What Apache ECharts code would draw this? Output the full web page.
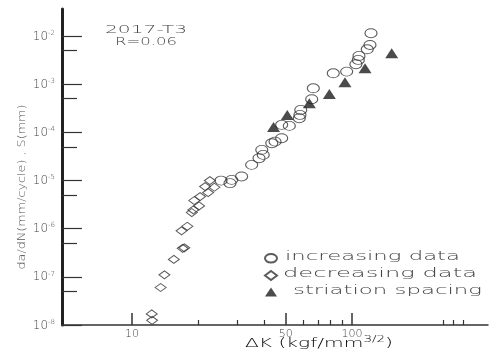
<!DOCTYPE html>
<html>
<head>
<meta charset="utf-8">
<script src="https://cdn.jsdelivr.net/npm/echarts@6/dist/echarts.min.js"></script>
<style>
  html, body { margin: 0; padding: 0; background: #fff; }
  #chart { width: 492px; height: 354px; }
</style>
</head>
<body>
<div id="chart"></div>
<script>
// ΔK (kgf/mm^3/2) vs crack growth rate da/dN (mm/cycle) or striation spacing S (mm)
const increasingData = [
  [122, 1.14e-2], [120.7, 6.5e-3], [117.3, 5.3e-3], [107.6, 3.85e-3], [106.8, 3.18e-3],
  [104.2, 2.59e-3], [94.6, 1.82e-3], [82.2, 1.68e-3], [66.7, 8.2e-4], [65.6, 4.86e-4],
  [58.5, 2.92e-4], [58.0, 2.30e-4], [57.6, 1.96e-4], [51.9, 1.36e-4], [47.9, 1.43e-4],
  [47.9, 7.55e-5], [44.7, 6.41e-5], [43.2, 5.94e-5], [38.9, 4.32e-5], [39.5, 3.40e-5],
  [37.8, 2.90e-5], [35.0, 2.11e-5], [31.5, 1.21e-5], [28.4, 1.03e-5], [27.9, 8.8e-6],
  [25.4, 9.95e-6]
];
const decreasingData = [
  [22.6, 9.95e-6], [21.5, 7.47e-6], [23.7, 7.26e-6], [22.2, 5.61e-6], [20.4, 4.63e-6],
  [19.2, 3.83e-6], [20.2, 2.97e-6], [19.0, 2.45e-6], [18.7, 2.16e-6], [17.85, 1.12e-6],
  [16.8, 9.0e-7], [17.0, 3.9e-7], [17.3, 4.0e-7], [15.5, 2.3e-7], [14.05, 1.1e-7],
  [13.5, 6.0e-8], [12.3, 1.7e-8], [12.35, 1.25e-8]
];
const striationData = [
  [151.5, 4.38e-3], [114.6, 2.14e-3], [92.9, 1.09e-3], [78.9, 6.26e-4],
  [64.0, 4.02e-4], [50.8, 2.30e-4], [44, 1.29e-4]
];
const seriesNames = ['increasing data', 'decreasing data', 'striation spacing'];
const xMajorTicks = [10, 50, 100];
const xMinorTicks = [20, 30, 40, 60, 70, 80, 90, 260, 290, 320];
const yMajorTicks = [1e-2, 1e-3, 1e-4, 1e-5, 1e-6, 1e-7, 1e-8];
const yMinorTicks = [5e-3, 5e-4, 5e-5, 5e-6, 5e-7, 5e-8];
const materialLines = ['2017-T3', 'R=0.06'];
const xTitle = ['ΔK (kgf/mm', '3/2', ')'];
const yTitle = 'da/dN(mm/cycle) , S(mm)';

const ink = '#333';
const textInk = '#444';
const plotFont = "'DejaVu Sans'";
const plotWeight = 200;

const X_MIN = 4.81, X_MAX = 415;
const Y_MIN = 1e-8, Y_MAX = 0.0363;

// measure a string so it can be stretched to the wide plotter lettering
const measureCtx = document.createElement('canvas').getContext('2d');
function textWidth(text, size) {
  measureCtx.font = plotWeight + ' ' + size + 'px ' + plotFont;
  return measureCtx.measureText(text).width;
}
function wideText(text, x, y, width, size, align) {
  return {
    type: 'text', x: x, y: y,
    scaleX: width / textWidth(text, size),
    style: { text: text, font: plotWeight + ' ' + size + 'px ' + plotFont, fill: textInk,
             align: align || 'left', verticalAlign: 'middle' },
    silent: true
  };
}

const chart = echarts.init(document.getElementById('chart'), null, { renderer: 'canvas' });

const ellipsePath = 'path://M0,5A7,5 0 1,1 14,5A7,5 0 1,1 0,5Z';

function supLabel(v) {
  const e = Math.round(Math.log10(v));
  return '{b|10}{s|' + e + '}';
}

const xTitleSize = 12, xTitleSup = 8;
const xTitleW = textWidth(xTitle[0], xTitleSize) + textWidth(xTitle[1], xTitleSup) + textWidth(xTitle[2], xTitleSize);

const option = {
  animation: false,
  backgroundColor: '#fff',
  grid: { left: 62, right: 4, top: 9, bottom: 29, containLabel: false },
  legend: {
    orient: 'vertical', left: 259, top: 248,
    itemWidth: 12, itemHeight: 9, itemGap: 6.5,
    selectedMode: false,
    textStyle: { fontSize: 6, lineHeight: 6 },
    formatter: function () { return ''; },
    data: seriesNames
  },
  xAxis: [
    {
      type: 'log', logBase: 10, min: X_MIN, max: X_MAX,
      axisLine: { show: true, lineStyle: { color: ink, width: 1.5 } },
      axisTick: { show: true, inside: true, length: 12, customValues: xMajorTicks,
                  lineStyle: { color: ink, width: 1.5 } },
      axisLabel: { show: true, customValues: xMajorTicks, margin: 4,
                   fontFamily: plotFont, fontWeight: plotWeight, fontSize: 11, color: textInk },
      splitLine: { show: false }, minorTick: { show: false }
    },
    {
      type: 'log', logBase: 10, min: X_MIN, max: X_MAX, position: 'bottom',
      axisLine: { show: false },
      axisTick: { show: true, inside: true, length: 5, customValues: xMinorTicks,
                  lineStyle: { color: ink, width: 1.2 } },
      axisLabel: { show: false },
      splitLine: { show: false }
    }
  ],
  yAxis: [
    {
      type: 'log', logBase: 10, min: Y_MIN, max: Y_MAX,
      axisLine: { show: true, lineStyle: { color: '#222', width: 3 } },
      axisTick: { show: true, inside: true, length: 20, customValues: yMajorTicks,
                  lineStyle: { color: ink, width: 1.2 } },
      axisLabel: {
        show: true, customValues: yMajorTicks, margin: 7,
        formatter: supLabel,
        rich: {
          b: { fontFamily: plotFont, fontWeight: plotWeight, fontSize: 12, color: textInk, verticalAlign: 'bottom' },
          s: { fontFamily: plotFont, fontWeight: plotWeight, fontSize: 7, color: textInk, verticalAlign: 'top', padding: [0, 0, 6, 0] }
        }
      },
      splitLine: { show: false }, minorTick: { show: false }
    },
    {
      type: 'log', logBase: 10, min: Y_MIN, max: Y_MAX, position: 'left',
      axisLine: { show: false },
      axisTick: { show: true, inside: true, length: 15, customValues: yMinorTicks,
                  lineStyle: { color: ink, width: 1.2 } },
      axisLabel: { show: false },
      splitLine: { show: false }
    }
  ],
  series: [
    {
      name: seriesNames[0], type: 'scatter', data: increasingData,
      symbol: ellipsePath, symbolSize: [12, 9],
      itemStyle: { color: 'rgba(255,255,255,0)', borderColor: ink, borderWidth: 1 },
      z: 2
    },
    {
      name: seriesNames[1], type: 'scatter', data: decreasingData,
      symbol: 'diamond', symbolSize: [11, 8],
      itemStyle: { color: 'rgba(255,255,255,0)', borderColor: ink, borderWidth: 1 },
      z: 2
    },
    {
      name: seriesNames[2], type: 'scatter', data: striationData,
      symbol: 'triangle', symbolSize: [13, 10],
      itemStyle: { color: '#1e1e1e' },
      z: 3
    }
  ],
  graphic: [
    wideText(materialLines[0], 146, 30, 82, 11, 'center'),
    wideText(materialLines[1], 146, 42, 62, 11, 'center'),
    wideText(seriesNames[0], 285, 257, 175, 12),
    wideText(seriesNames[1], 283, 274, 194, 12),
    wideText(seriesNames[2], 293, 291, 189, 12),
    {
      type: 'text', x: 319, y: 343, scaleX: 148 / xTitleW, silent: true,
      style: {
        text: '{a|' + xTitle[0] + '}{s|' + xTitle[1] + '}{a|' + xTitle[2] + '}',
        align: 'center', verticalAlign: 'middle',
        rich: {
          a: { fontFamily: plotFont, fontWeight: plotWeight, fontSize: xTitleSize, color: textInk, verticalAlign: 'bottom' },
          s: { fontFamily: plotFont, fontWeight: plotWeight, fontSize: xTitleSup, color: textInk, verticalAlign: 'top', padding: [0, 0, 6, 0] }
        }
      }
    },
    {
      type: 'text', x: 22, y: 187, rotation: Math.PI / 2,
      scaleX: 165 / textWidth(yTitle, 11), silent: true,
      style: { text: yTitle, font: plotWeight + ' 11px ' + plotFont, fill: '#555',
               align: 'center', verticalAlign: 'middle' }
    }
  ]
};

chart.setOption(option);
</script>
</body>
</html>
